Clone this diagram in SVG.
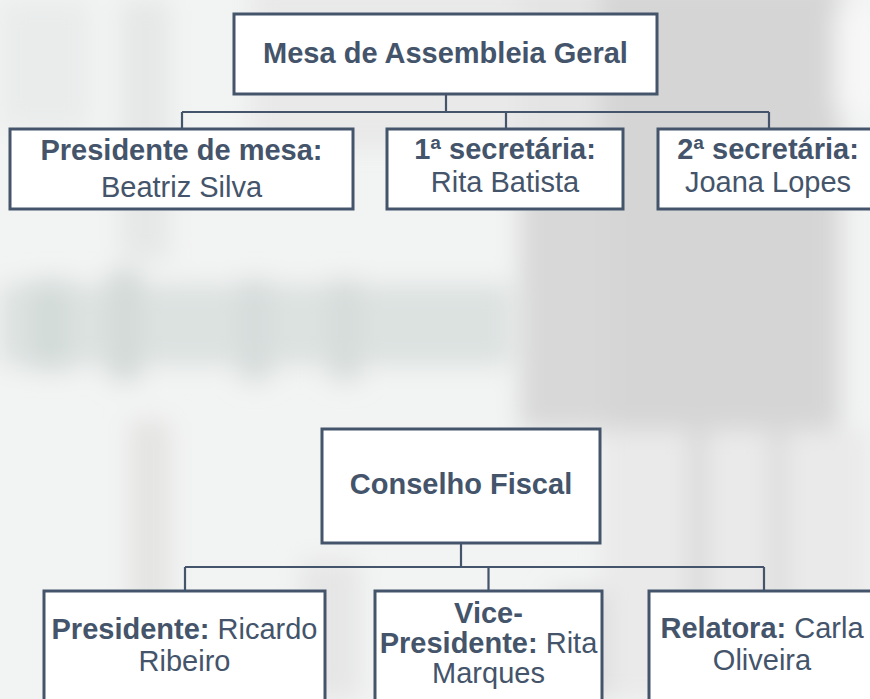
<svg xmlns="http://www.w3.org/2000/svg" width="870" height="699" viewBox="0 0 870 699">
<defs>
<filter id="blur" x="-20%" y="-20%" width="140%" height="140%"><feGaussianBlur stdDeviation="12"/></filter>
<style>
.box{fill:#ffffff;stroke:#44546a;stroke-width:3}
.ln{fill:none;stroke:#44546a;stroke-width:2.2}
text{font-family:"Liberation Sans",Arial,sans-serif;font-size:29px;fill:#44546a;text-anchor:middle}
.b{font-weight:bold}
</style>
</defs>
<g id="background">
<rect x="0" y="0" width="870" height="699" fill="#f2f3f3"/>
<g filter="url(#blur)">
<rect x="600" y="-20" width="240" height="450" fill="#d5d5d5"/>
<rect x="520" y="170" width="90" height="260" fill="#d8d8d8"/>
<rect x="520" y="-20" width="80" height="190" fill="#e4e4e4"/>
<rect x="250" y="-20" width="270" height="170" fill="#e9e9e9"/>
<rect x="835" y="10" width="50" height="100" fill="#f7f7f7"/>
<rect x="0" y="285" width="510" height="80" fill="#dce2e0"/>
<rect x="30" y="280" width="40" height="90" fill="#d3dbd9"/>
<rect x="110" y="270" width="30" height="110" fill="#d2d9d7"/>
<rect x="240" y="280" width="30" height="100" fill="#d5dcda"/>
<rect x="330" y="280" width="30" height="100" fill="#d6dcda"/>
<rect x="600" y="430" width="270" height="269" fill="#eaeaea"/>
<rect x="690" y="430" width="16" height="269" fill="#d6d6d6"/>
<rect x="770" y="430" width="16" height="269" fill="#d9d9d9"/>
<rect x="130" y="420" width="40" height="279" fill="#e4e4e2"/>
<rect x="300" y="560" width="60" height="139" fill="#e6e6e6"/>
<rect x="550" y="590" width="60" height="109" fill="#dedede"/>
<rect x="0" y="0" width="90" height="130" fill="#eaecec"/>
<rect x="120" y="0" width="50" height="260" fill="#e6e8e8"/>
</g>
</g>
<g id="connectors">
<path class="ln" d="M446 94V112M182 112H769M182 112V129M506 112V129M769 112V129"/>
<path class="ln" d="M461 543V567M185 567H764M185 567V591M488.5 567V591M764 567V591"/>
</g>
<g id="mesa">
<rect class="box" x="234" y="14" width="423" height="80"/>
<text class="b" x="445.5" y="63">Mesa de Assembleia Geral</text>
</g>
<g id="presidente-mesa">
<rect class="box" x="10" y="129" width="343" height="80"/>
<text class="b" x="181.5" y="160">Presidente de mesa:</text>
<text x="181.5" y="197">Beatriz Silva</text>
</g>
<g id="secretaria1">
<rect class="box" x="387" y="129" width="236" height="80"/>
<text class="b" x="505" y="159">1ª secretária:</text>
<text x="505" y="192">Rita Batista</text>
</g>
<g id="secretaria2">
<rect class="box" x="658" y="129" width="222" height="80"/>
<text class="b" x="768" y="159">2ª secretária:</text>
<text x="768" y="192">Joana Lopes</text>
</g>
<g id="conselho">
<rect class="box" x="322" y="429" width="278" height="114"/>
<text class="b" x="461" y="494">Conselho Fiscal</text>
</g>
<g id="presidente">
<rect class="box" x="44" y="591" width="281" height="130"/>
<text x="184.5" y="639"><tspan class="b">Presidente:</tspan> Ricardo</text>
<text x="184.5" y="671">Ribeiro</text>
</g>
<g id="vice">
<rect class="box" x="375" y="591" width="227" height="130"/>
<text class="b" x="488.5" y="623">Vice-</text>
<text x="488.5" y="653"><tspan class="b">Presidente:</tspan> Rita</text>
<text x="488.5" y="683">Marques</text>
</g>
<g id="relatora">
<rect class="box" x="649" y="591" width="230" height="130"/>
<text x="762" y="638"><tspan class="b">Relatora:</tspan> Carla</text>
<text x="762" y="670">Oliveira</text>
</g>
</svg>
